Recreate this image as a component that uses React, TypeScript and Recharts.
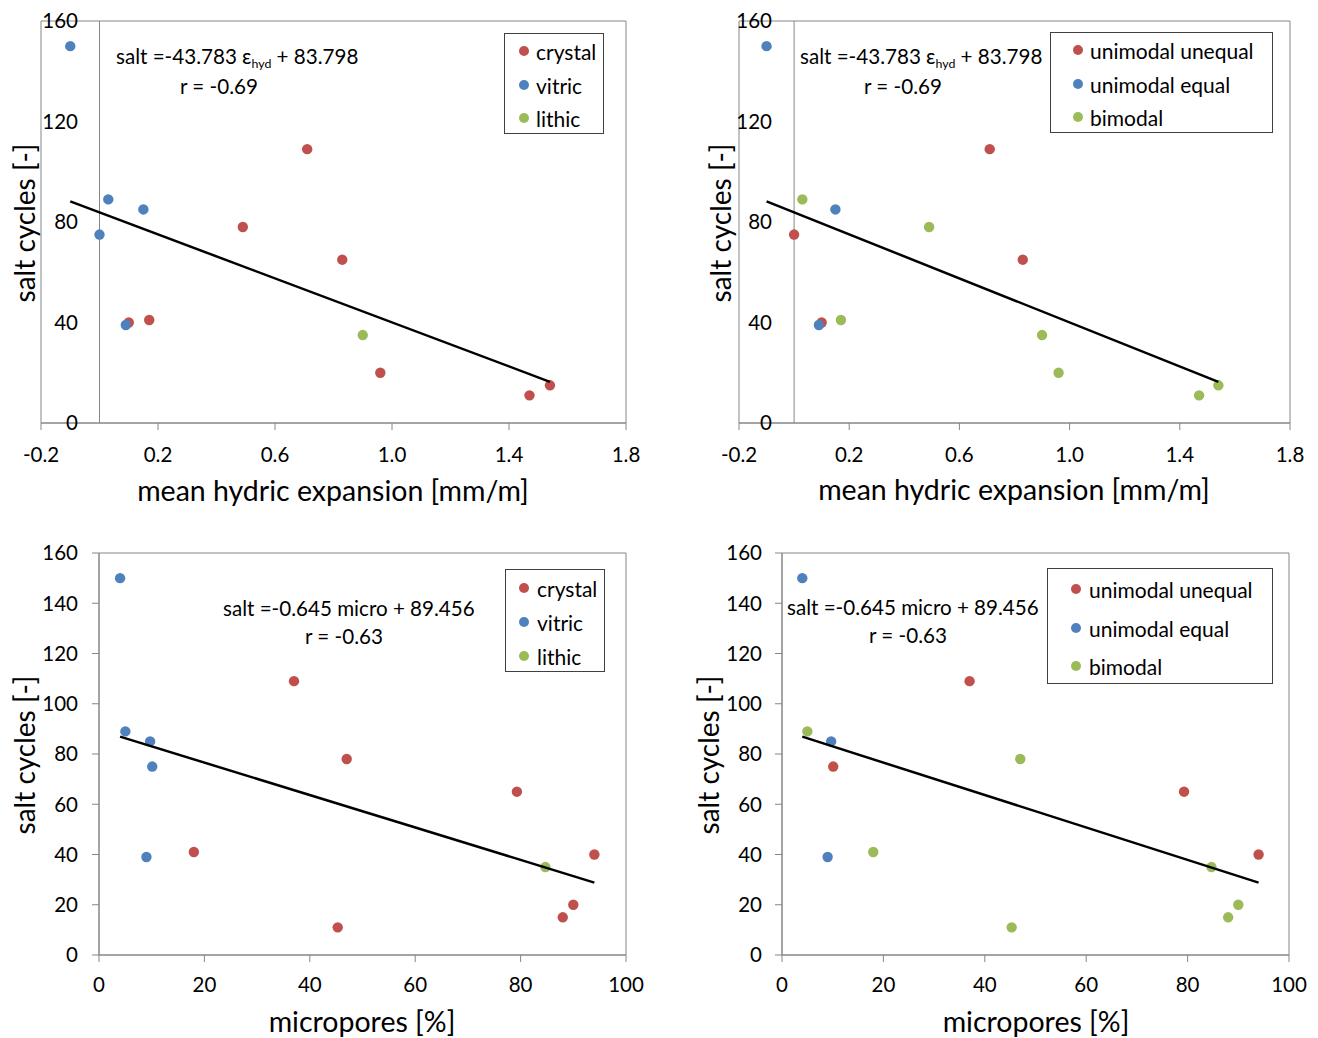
import React from 'react'
import { ScatterChart, Scatter, XAxis, YAxis, ReferenceLine, ReferenceArea } from 'recharts'

// one entry per tuff sample
const saltCycles = [150, 89, 85, 75, 39, 40, 41, 78, 109, 65, 35, 20, 11, 15]
const hydricExpansion = [-0.1, 0.03, 0.15, 0, 0.09, 0.1, 0.17, 0.49, 0.71, 0.83, 0.9, 0.96, 1.47, 1.54]
const micropores = [4, 5, 9.7, 10.1, 9, 94, 18, 47, 37, 79.3, 84.7, 90, 45.3, 88]
const tuffType = ['vitric', 'vitric', 'vitric', 'vitric', 'vitric', 'crystal', 'crystal', 'crystal', 'crystal', 'crystal', 'lithic', 'crystal', 'crystal', 'crystal']
const poreMode = ['unimodal equal', 'bimodal', 'unimodal equal', 'unimodal unequal', 'unimodal equal', 'unimodal unequal', 'bimodal', 'bimodal', 'unimodal unequal', 'unimodal unequal', 'bimodal', 'bimodal', 'bimodal', 'bimodal']

const tuffTypes = ['crystal', 'vitric', 'lithic']
const poreModes = ['unimodal unequal', 'unimodal equal', 'bimodal']
const groupColors = ['#C0504D', '#4F81BD', '#9BBB59']

const hydricTicks = [-0.2, 0.2, 0.6, 1.0, 1.4, 1.8]
const microTicks = [0, 20, 40, 60, 80, 100]
const saltTicksCoarse = [0, 40, 80, 120, 160]
const saltTicksFine = [0, 20, 40, 60, 80, 100, 120, 140, 160]

// regression lines, end points
const hydricFit = [{ x: -0.1, y: 88.2 }, { x: 1.54, y: 16.4 }]
const microFit = [{ x: 4, y: 86.9 }, { x: 94, y: 28.8 }]

const font = 'Lato, "Open Sans", sans-serif'
const axisGray = '#868686'

const Dot = (props: any) => <circle cx={props.cx} cy={props.cy} r={5.2} fill={props.fill} />
const NoDot = () => <g />

function Panel(p: any) {
  const series = p.groupNames.map((name: string, gi: number) => ({
    name,
    color: groupColors[gi],
    data: saltCycles
      .map((y, i) => ({ x: p.xValues[i], y, g: p.groups[i] }))
      .filter(d => d.g === name)
  }))
  const b = p.box
  const tickStyle = { fill: '#000', fontSize: 20.5, fontFamily: font }

  return (
    <>
      <div style={{ position: 'absolute', left: b.left, top: b.top }}>
        <ScatterChart
          width={b.width}
          height={b.height}
          margin={{ top: b.plotTop, right: b.right, bottom: 0, left: 0 }}
        >
          <XAxis
            type="number"
            dataKey="x"
            domain={p.xDomain}
            ticks={p.xTicks}
            interval={0}
            tickFormatter={p.xFormat}
            height={b.xAxisHeight}
            stroke={axisGray}
            tickSize={7}
            tickMargin={b.xTickMargin}
            tick={tickStyle}
          />
          <YAxis
            type="number"
            dataKey="y"
            domain={[0, 160]}
            ticks={p.yTicks}
            interval={0}
            width={b.yAxisWidth}
            stroke={axisGray}
            axisLine={!p.zeroLine}
            tickLine={!p.zeroLine}
            tickSize={p.zeroLine ? 0 : 7}
            tickMargin={b.yTickMargin}
            tick={tickStyle}
          />
          <ReferenceArea
            x1={p.xDomain[0]}
            x2={p.xDomain[1]}
            y1={0}
            y2={160}
            fill="none"
            fillOpacity={0}
            stroke={axisGray}
            strokeWidth={1}
          />
          {p.zeroLine && <ReferenceLine x={0} stroke={axisGray} strokeWidth={1} />}
          {series.map((s: any) => (
            <Scatter key={s.name} name={s.name} data={s.data} fill={s.color} shape={Dot} isAnimationActive={false} />
          ))}
          <Scatter
            data={p.fit}
            fill="#000"
            line={{ stroke: '#000', strokeWidth: 2.5 }}
            shape={NoDot}
            isAnimationActive={false}
          />
        </ScatterChart>
      </div>

      {/* legend */}
      <div
        style={{
          position: 'absolute',
          left: p.legend.left,
          top: p.legend.top,
          width: p.legend.width,
          height: p.legend.height,
          border: '1px solid #404040',
          boxSizing: 'border-box',
          background: '#fff',
          fontFamily: font,
          fontSize: 21
        }}
      >
        {series.map((s: any, i: number) => (
          <React.Fragment key={s.name}>
            <span
              style={{
                position: 'absolute',
                left: p.legend.markerX - 5,
                top: p.legend.rowTop + i * p.legend.rowGap - 5,
                width: 10,
                height: 10,
                borderRadius: '50%',
                background: s.color
              }}
            />
            <span
              style={{
                position: 'absolute',
                left: p.legend.textX,
                top: p.legend.rowTop + i * p.legend.rowGap,
                transform: 'translateY(-50%)',
                lineHeight: 1,
                whiteSpace: 'nowrap'
              }}
            >
              {s.name}
            </span>
          </React.Fragment>
        ))}
      </div>

      {/* regression equation */}
      {p.equation.map((line: any, i: number) => (
        <div
          key={i}
          style={{
            position: 'absolute',
            left: line.left,
            top: line.top,
            transform: 'translateY(-50%)',
            fontFamily: font,
            fontSize: 20.6,
            lineHeight: 1,
            whiteSpace: 'nowrap'
          }}
        >
          {line.text}
        </div>
      ))}

      {/* axis titles */}
      <div
        style={{
          position: 'absolute',
          left: p.xTitle.x,
          top: p.xTitle.y,
          transform: 'translate(-50%, -50%)',
          fontFamily: font,
          fontSize: 28.5,
          lineHeight: 1,
          whiteSpace: 'nowrap'
        }}
      >
        {p.xTitle.text}
      </div>
      <div
        style={{
          position: 'absolute',
          left: p.yTitle.x,
          top: p.yTitle.y,
          transform: 'translate(-50%, -50%) rotate(-90deg)',
          fontFamily: font,
          fontSize: 28,
          lineHeight: 1,
          whiteSpace: 'nowrap'
        }}
      >
        salt cycles [-]
      </div>
    </>
  )
}

const hydEquation = (
  <>
    salt =-43.783 ε<span style={{ fontSize: '0.6em', verticalAlign: '-0.35em' }}>hyd</span> + 83.798
  </>
)

export default function App() {
  return (
    <div style={{ position: 'absolute', left: 0, top: 0, width: 1318, height: 1038, background: '#fff' }}>
      <Panel
        xValues={hydricExpansion}
        groups={tuffType}
        groupNames={tuffTypes}
        xDomain={[-0.2, 1.8]}
        xTicks={hydricTicks}
        xFormat={(v: number) => v.toFixed(1)}
        yTicks={saltTicksCoarse}
        zeroLine
        fit={hydricFit}
        box={{ left: 0, top: 0, width: 660, height: 520, plotTop: 21, right: 34, yAxisWidth: 41, xAxisHeight: 97, xTickMargin: 17, yTickMargin: -37 }}
        legend={{ left: 504, top: 33, width: 100, height: 101, rowTop: 17, rowGap: 33.5, markerX: 19, textX: 31 }}
        equation={[
          { left: 116, top: 58, text: hydEquation },
          { left: 180, top: 86, text: 'r = -0.69' }
        ]}
        xTitle={{ x: 333, y: 490, text: 'mean hydric expansion [mm/m]' }}
        yTitle={{ x: 24, y: 223 }}
      />
      <Panel
        xValues={hydricExpansion}
        groups={poreMode}
        groupNames={poreModes}
        xDomain={[-0.2, 1.8]}
        xTicks={hydricTicks}
        xFormat={(v: number) => v.toFixed(1)}
        yTicks={saltTicksCoarse}
        zeroLine
        fit={hydricFit}
        box={{ left: 660, top: 0, width: 658, height: 520, plotTop: 21, right: 28, yAxisWidth: 79, xAxisHeight: 97, xTickMargin: 17, yTickMargin: -33 }}
        legend={{ left: 1050, top: 32, width: 223, height: 101, rowTop: 17, rowGap: 33.5, markerX: 27, textX: 39 }}
        equation={[
          { left: 800, top: 58, text: hydEquation },
          { left: 864, top: 86, text: 'r = -0.69' }
        ]}
        xTitle={{ x: 1014, y: 489, text: 'mean hydric expansion [mm/m]' }}
        yTitle={{ x: 720, y: 223 }}
      />
      <Panel
        xValues={micropores}
        groups={tuffType}
        groupNames={tuffTypes}
        xDomain={[0, 100]}
        xTicks={microTicks}
        xFormat={(v: number) => String(v)}
        yTicks={saltTicksFine}
        fit={microFit}
        box={{ left: 0, top: 530, width: 660, height: 508, plotTop: 23, right: 34, yAxisWidth: 99, xAxisHeight: 83, xTickMargin: 15, yTickMargin: 14 }}
        legend={{ left: 505, top: 569, width: 100, height: 103, rowTop: 18, rowGap: 34, markerX: 18, textX: 31 }}
        equation={[
          { left: 223, top: 608, text: 'salt =-0.645 micro + 89.456' },
          { left: 305, top: 636, text: 'r = -0.63' }
        ]}
        xTitle={{ x: 362, y: 1021, text: 'micropores [%]' }}
        yTitle={{ x: 24, y: 755 }}
      />
      <Panel
        xValues={micropores}
        groups={poreMode}
        groupNames={poreModes}
        xDomain={[0, 100]}
        xTicks={microTicks}
        xFormat={(v: number) => String(v)}
        yTicks={saltTicksFine}
        fit={microFit}
        box={{ left: 660, top: 530, width: 658, height: 508, plotTop: 23, right: 29, yAxisWidth: 122, xAxisHeight: 83, xTickMargin: 15, yTickMargin: 13 }}
        legend={{ left: 1047, top: 568, width: 226, height: 116, rowTop: 20, rowGap: 38.5, markerX: 28, textX: 41 }}
        equation={[
          { left: 787, top: 607, text: 'salt =-0.645 micro + 89.456' },
          { left: 869, top: 635, text: 'r = -0.63' }
        ]}
        xTitle={{ x: 1036, y: 1021, text: 'micropores [%]' }}
        yTitle={{ x: 708, y: 755 }}
      />
    </div>
  )
}
